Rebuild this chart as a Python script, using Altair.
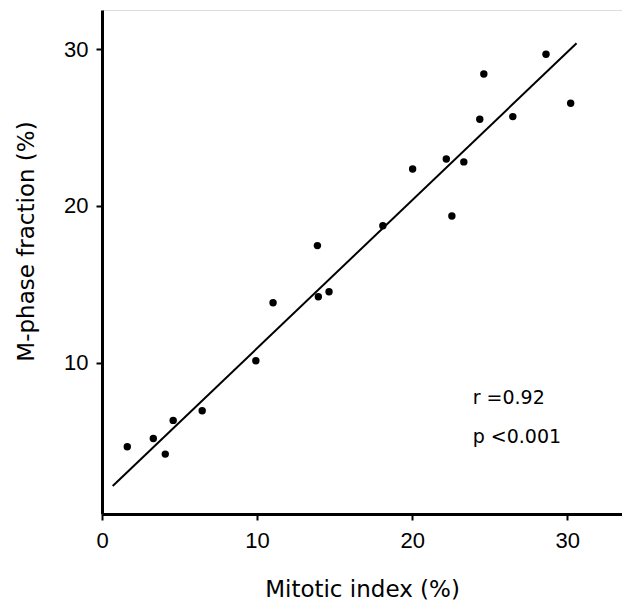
import altair as alt
import pandas as pd

# Data
mitotic_index = [1.63, 3.31, 4.08, 4.59, 6.46, 9.92, 11.03, 13.89, 13.95, 14.64,
                 18.11, 22.56, 20.03, 22.20, 23.33, 24.36, 24.62, 26.49, 28.63, 30.22]
m_phase = [4.64, 5.17, 4.17, 6.32, 6.94, 10.13, 13.83, 17.47, 14.21, 14.53,
           18.74, 19.36, 22.36, 23.00, 22.81, 25.53, 28.42, 25.70, 29.68, 26.55]

fit_x = [0.69, 30.6]
fit_y = [2.13, 30.38]

stats_text = ["r =0.92", "p <0.001"]
stats_x = [23.9, 23.9]
stats_y = [7.75, 5.26]

x_ticks = [0, 10, 20, 30]
y_ticks = [10, 20, 30]

FONT = "Liberation Sans, Arial, sans-serif"
TFONT = "DejaVu Sans, sans-serif"

pts = pd.DataFrame({"x": mitotic_index, "y": m_phase})
fit = pd.DataFrame({"x": fit_x, "y": fit_y})
txt = pd.DataFrame({"x": stats_x, "y": stats_y, "t": stats_text})

xscale = alt.Scale(domain=[0, 33.53], nice=False, zero=False)
yscale = alt.Scale(domain=[0.35, 32.5], nice=False, zero=False)

xaxis = alt.Axis(values=x_ticks, title="Mitotic index (%)", grid=False,
                 domainWidth=3, domainColor="black", tickColor="black",
                 tickWidth=2, tickSize=6, labelFont=FONT, labelFontSize=22,
                 labelColor="black", labelPadding=10, labelFlush=False,
                 titleFont=TFONT, titleFontSize=23, titleFontWeight="normal",
                 titleColor="black", titleY=82, titleBaseline="alphabetic")
yaxis = alt.Axis(values=y_ticks, title="M-phase fraction (%)", grid=False,
                 domainWidth=3, domainColor="black", tickColor="black",
                 tickWidth=2, tickSize=6, labelFont=FONT, labelFontSize=22,
                 labelColor="black", labelPadding=8, labelFlush=False,
                 titleFont=TFONT, titleFontSize=23, titleFontWeight="normal",
                 titleColor="black", titleX=-69, titleY=231,
                 titleBaseline="alphabetic")

points = alt.Chart(pts).mark_circle(size=55, color="black", opacity=1).encode(
    x=alt.X("x:Q", scale=xscale, axis=xaxis),
    y=alt.Y("y:Q", scale=yscale, axis=yaxis),
)

line = alt.Chart(fit).mark_line(color="black", strokeWidth=2).encode(
    x=alt.X("x:Q", scale=xscale),
    y=alt.Y("y:Q", scale=yscale),
)

labels = alt.Chart(txt).mark_text(align="left", baseline="middle", fontSize=19,
                                  font=TFONT, color="black").encode(
    x=alt.X("x:Q", scale=xscale),
    y=alt.Y("y:Q", scale=yscale),
    text="t:N",
)

chart = alt.layer(line, points, labels).properties(
    width=520, height=504,
    autosize=alt.AutoSizeParams(type="none"),
    padding={"left": 94, "top": 2, "right": 0, "bottom": 88},
).configure_view(stroke=None).configure(background="white")

chart.save("out.html", embed_options={"renderer": "svg", "actions": False})
